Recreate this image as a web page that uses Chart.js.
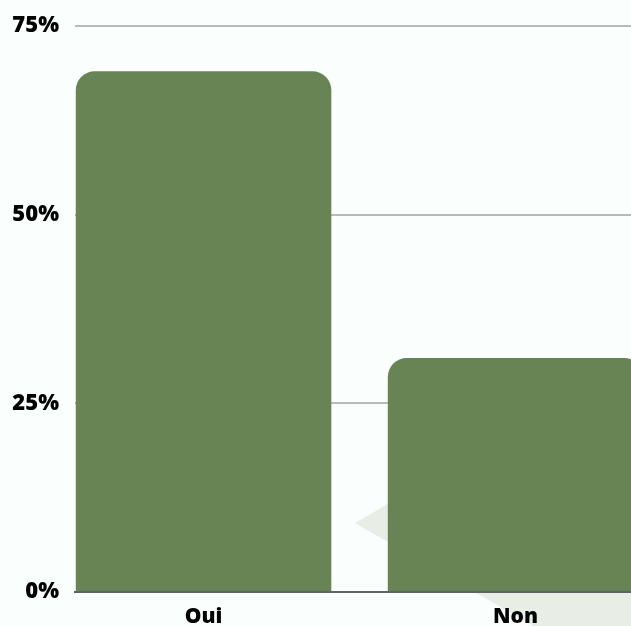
<!DOCTYPE html>
<html>
<head>
<meta charset="utf-8">
<script src="https://cdn.jsdelivr.net/npm/chart.js@4/dist/chart.umd.min.js"></script>
<style>
  html, body { margin: 0; padding: 0; overflow: hidden; background: #fafefd; }
  #wrap { width: 631px; height: 626px; position: relative; }
</style>
</head>
<body>
<div id="wrap"><canvas id="c" width="631" height="626"></canvas></div>
<script>
const categories = ['Oui', 'Non'];
const values = [69, 31];
const yTicks = [0, 25, 50, 75];

const bgDecor = {
  id: 'bgDecor',
  beforeDraw(chart) {
    const ctx = chart.ctx;
    ctx.save();
    ctx.fillStyle = '#fafefd';
    ctx.fillRect(0, 0, chart.width, chart.height);
    // decorative pale triangle behind the chart
    const ax = 355, ay = 523, L = 420;
    ctx.fillStyle = '#e8ede6';
    ctx.beginPath();
    ctx.moveTo(ax, ay);
    ctx.lineTo(ax + L * Math.cos(Math.PI / 6), ay - L * Math.sin(Math.PI / 6));
    ctx.lineTo(ax + L * Math.cos(Math.PI / 6), ay + L * Math.sin(Math.PI / 6));
    ctx.closePath();
    ctx.fill();
    ctx.restore();
  }
};

new Chart(document.getElementById('c'), {
  type: 'bar',
  data: {
    datasets: [{
      data: categories.map((c, i) => ({ x: i, y: values[i] })),
      backgroundColor: '#688454',
      borderRadius: 19,
      borderSkipped: 'start',
      categoryPercentage: 0.91,
      barPercentage: 0.9
    }]
  },
  options: {
    responsive: false,
    animation: false,
    layout: { padding: { top: 26, left: 0, right: 0, bottom: 0 } },
    plugins: { legend: { display: false }, tooltip: { enabled: false } },
    scales: {
      x: {
        type: 'linear',
        offset: false,
        min: -0.412,
        max: 1.370,
        grid: { display: false, drawTicks: false, offset: false },
        border: { display: true, color: '#5f6266', width: 2 },
        afterBuildTicks(scale) { scale.ticks = categories.map((c, i) => ({ value: i })); },
        afterFit(scale) { scale.height = 34; },
        ticks: {
          includeBounds: false,
          stepSize: 1,
          padding: 12,
          color: '#000',
          font: { family: 'Open Sans', size: 21, weight: 800 },
          callback: (v) => categories[v] ?? ''
        }
      },
      y: {
        min: 0,
        max: 75,
        afterBuildTicks(scale) { scale.ticks = yTicks.map(v => ({ value: v })); },
        afterFit(scale) { scale.width = 75; scale.paddingTop = 0; scale.paddingBottom = 0; },
        grid: { color: '#b8bbbb', lineWidth: 2, drawTicks: false },
        border: { display: false },
        ticks: {
          padding: 16,
          color: '#000',
          font: { family: 'Open Sans', size: 22, weight: 800 },
          callback: (v) => v + '%'
        }
      }
    }
  },
  plugins: [bgDecor]
});
</script>
</body>
</html>
